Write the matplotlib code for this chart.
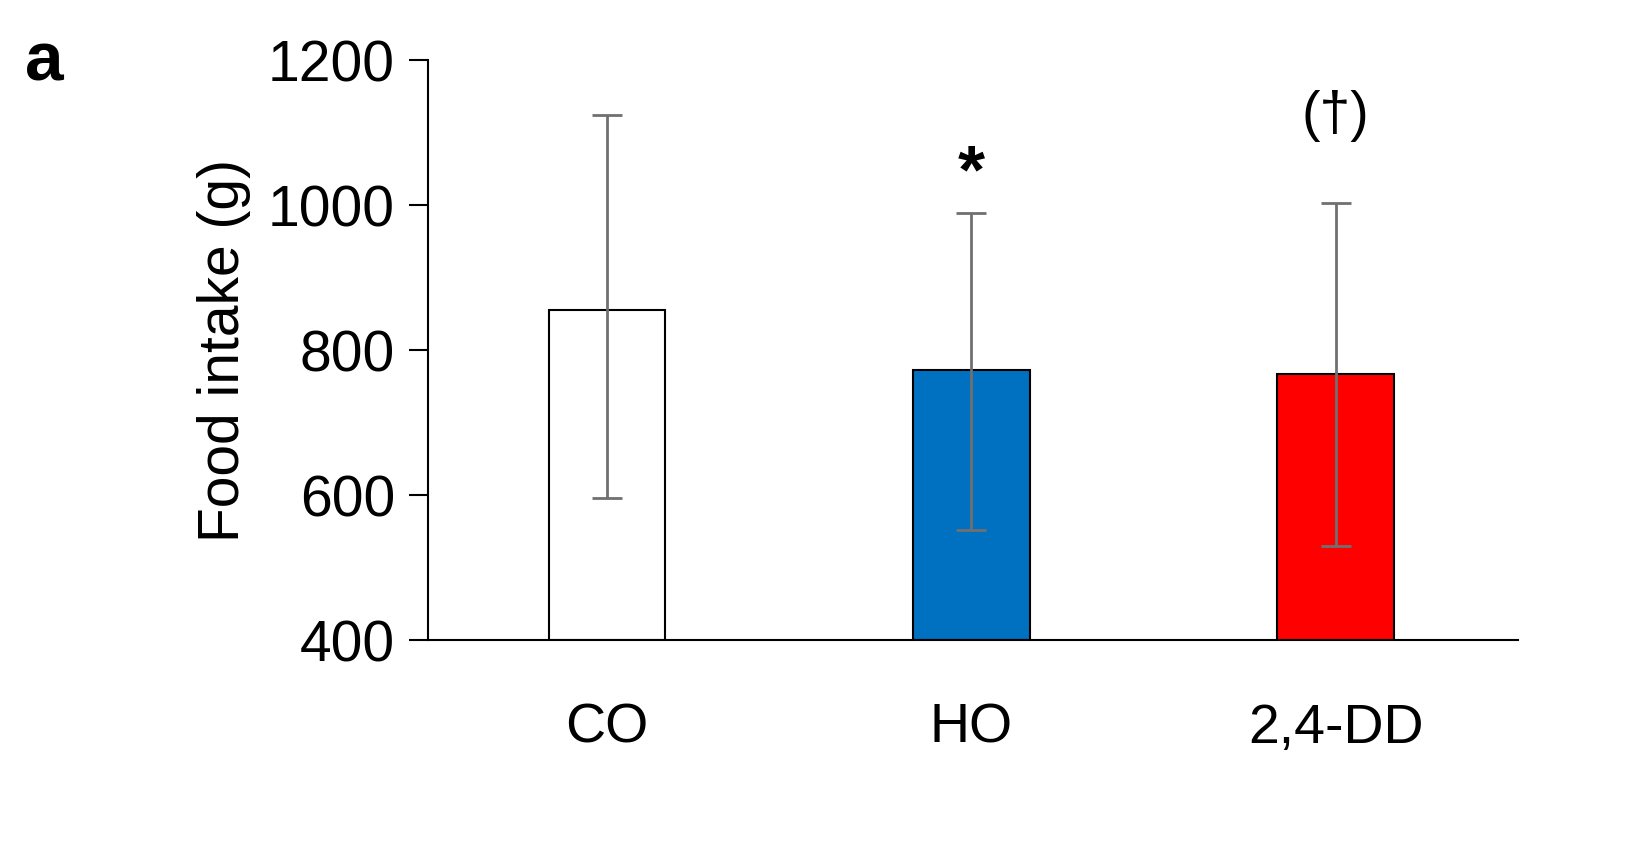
import matplotlib
matplotlib.use("Agg")
import matplotlib.pyplot as plt

categories = ["CO", "HO", "2,4-DD"]
means = [855, 772, 767]
err_upper = [1124, 989, 1003]
err_lower = [596, 552, 530]
colors = ["white", "#0070C0", "#FF0000"]
annotations = ["", "*", "(\u2020)"]

plt.rcParams['font.family'] = ['Liberation Sans', 'DejaVu Sans']
fig = plt.figure(figsize=(16.47, 8.5), dpi=100)
ax = fig.add_axes([0.26, 0.247, 0.6617, 0.682])
x = range(len(categories))
yerr = [[m - l for m, l in zip(means, err_lower)], [u - m for m, u in zip(means, err_upper)]]
ax.bar(x, [m - 400 for m in means], bottom=400, width=0.32, color=colors, edgecolor="black", linewidth=1.5, zorder=2)
ax.errorbar(x, means, yerr=yerr, fmt="none", ecolor="#707070", elinewidth=2, capsize=11, capthick=2, zorder=3)
for i, (a, u) in enumerate(zip(annotations, err_upper)):
    if a == "*":
        ax.text(i, u + 10, a, ha="center", va="bottom", fontsize=50, fontweight="bold")
    elif a:
        ax.text(i, u + 85, a, ha="center", va="bottom", fontsize=40)
ax.set_xlim(-0.49, 2.5)
ax.set_ylim(400, 1200)
ax.set_yticks([400, 600, 800, 1000, 1200])
ax.set_xticks(list(x))
ax.set_xticklabels(categories)
ax.tick_params(axis="y", labelsize=41, length=14, width=1.5, direction="out", pad=10)
ax.tick_params(axis="x", labelsize=40, length=0, pad=45)
for s in ["top", "right"]:
    ax.spines[s].set_visible(False)
for s in ["left", "bottom"]:
    ax.spines[s].set_linewidth(1.5)
ax.set_ylabel("Food intake (g)", fontsize=41, labelpad=12)
fig.text(0.015, 0.905, "a", fontsize=50, fontweight="bold")
fig.savefig("out.png", dpi=100)
